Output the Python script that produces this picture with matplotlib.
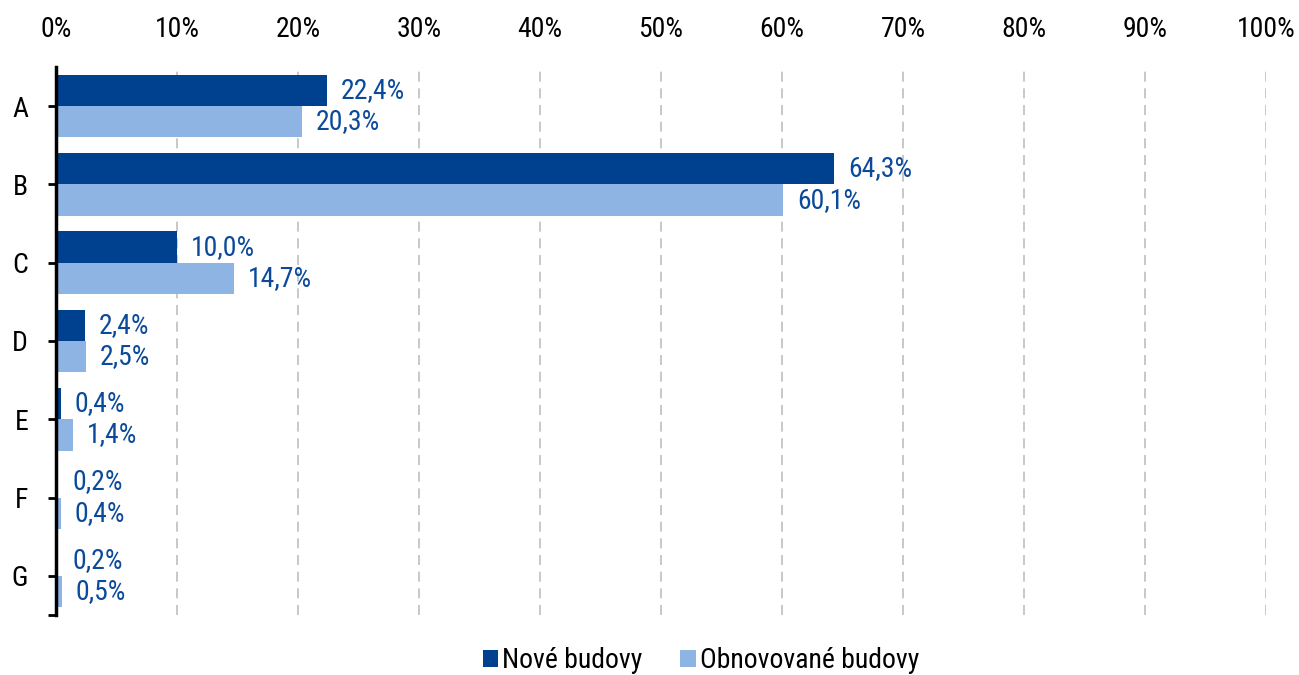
import numpy as np
import matplotlib.pyplot as plt
from matplotlib.ticker import FixedLocator
from matplotlib import font_manager as fm

cats = ['A', 'B', 'C', 'D', 'E', 'F', 'G']
nove = [22.4, 64.3, 10.0, 2.4, 0.4, 0.2, 0.2]
obnov = [20.3, 60.1, 14.7, 2.5, 1.4, 0.4, 0.5]
xticks = [0, 10, 20, 30, 40, 50, 60, 70, 80, 90, 100]

c_dark = '#00418F'
c_light = '#8EB4E3'
c_lab = '#0B4A9A'

# narrow font similar to Arial Narrow, with fallbacks
names = {f.name for f in fm.fontManager.ttflist}
fam = ['Roboto Condensed', 'Archivo Narrow', 'PT Sans Narrow', 'Liberation Sans', 'DejaVu Sans']
fam = [f for f in fam if f in names] or ['DejaVu Sans']
plt.rcParams['font.family'] = fam
fs = 20 if fam[0] != 'Liberation Sans' else 17

fig = plt.figure(figsize=(12.99, 6.75), dpi=100)
ax = fig.add_axes([56/1299, 1-615/675, (1266-56)/1299, (615-67)/675])

y = np.arange(len(cats))
h = 0.4
b1 = ax.barh(y - h/2, nove, height=h, color=c_dark, label='Nové budovy', zorder=3)
b2 = ax.barh(y + h/2, obnov, height=h, color=c_light, label='Obnovované budovy', zorder=3)

def fmt(v):
    return ('%.1f%%' % v).replace('.', ',')

for bars, vals in ((b1, nove), (b2, obnov)):
    for r, v in zip(bars, vals):
        ax.annotate(fmt(v), (v, r.get_y() + r.get_height()/2), xytext=(10, 0),
                    textcoords='offset points', va='center', ha='left',
                    color=c_lab, fontsize=fs)

ax.set_xlim(0, 100)
ax.set_ylim(6.5, -0.5)
ax.set_xticks(xticks)
ax.set_xticklabels(['%d%%' % t for t in xticks])
ax.xaxis.tick_top()
ax.tick_params(axis='x', length=0, labelsize=fs, pad=17)
ax.set_yticks(y)
ax.set_yticklabels(cats)
ax.tick_params(axis='y', length=6, width=2, labelsize=fs, pad=14)
ax.yaxis.set_minor_locator(FixedLocator([6.5]))
ax.tick_params(axis='y', which='minor', length=6, width=2)

for t in xticks[1:]:
    ax.axvline(t, color='#BFBFBF', lw=1.2, ls=(0, (6, 4)), zorder=1)

for s in ['top', 'right', 'bottom']:
    ax.spines[s].set_visible(False)
ax.spines['left'].set_linewidth(2.5)
ax.spines['left'].set_zorder(4)

fig.legend(handles=[b1, b2], loc='center', bbox_to_anchor=(701/1299, 1-661/675), ncol=2,
           frameon=False, fontsize=fs, handlelength=0.55, handleheight=0.55,
           handletextpad=0.15, columnspacing=1.35, borderpad=0)

fig.savefig('out.png', dpi=100)
